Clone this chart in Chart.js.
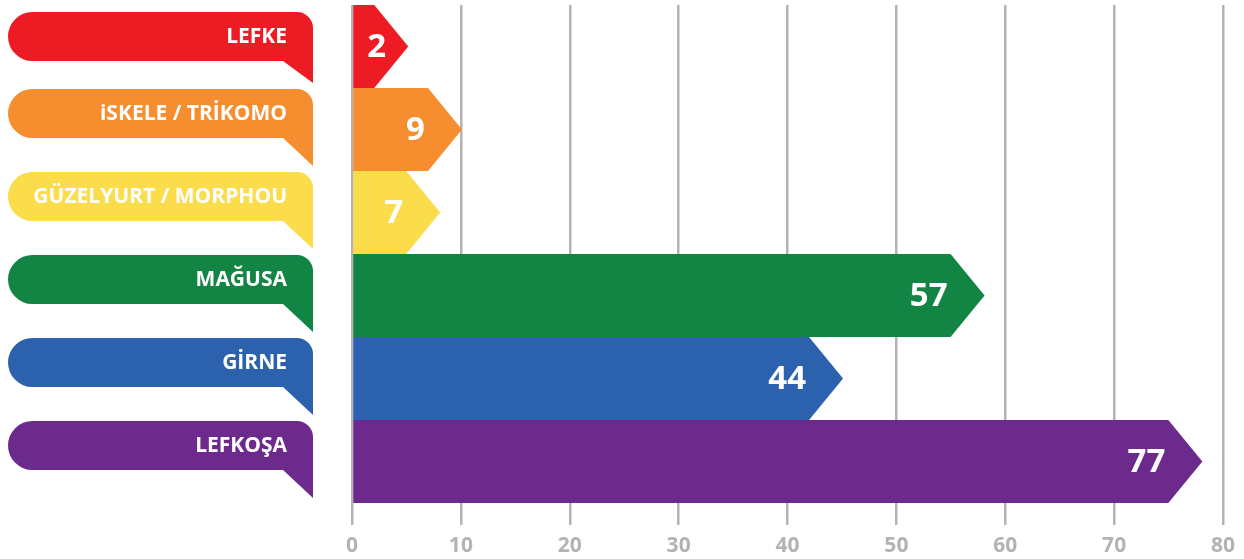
<!DOCTYPE html>
<html>
<head>
<meta charset="utf-8">
<script src="https://cdn.jsdelivr.net/npm/chart.js@4/dist/chart.umd.min.js"></script>
<style>
  html, body { margin: 0; padding: 0; background: #fff; }
  #wrap { width: 1244px; height: 559px; }
</style>
</head>
<body>
<div id="wrap"><canvas id="bolgeler"></canvas></div>
<script>
// veriler
const regions = ['LEFKE', 'iSKELE / TRİKOMO', 'GÜZELYURT / MORPHOU', 'MAĞUSA', 'GİRNE', 'LEFKOŞA'];
const counts = [2, 9, 7, 57, 44, 77];
const xTicks = [0, 10, 20, 30, 40, 50, 60, 70, 80];
const colors = ['#ED1C24', '#F68D2E', '#FBDC4B', '#128544', '#2C62AD', '#6C2B8C'];

const FONT = "'Open Sans', 'Noto Sans', sans-serif";
const GRID = '#b3b3b3';

// ok seklindeki cubuklar, deger yazilari ve soldaki etiketler
const arrowBars = {
    id: 'arrowBars',
    afterDatasetsDraw(chart) {
        const ctx = chart.ctx;
        const meta = chart.getDatasetMeta(0);
        ctx.save();
        meta.data.forEach(function (bar, i) {
            const h = bar.height;
            const top = bar.y - h / 2;
            // ucun arkasi deger noktasinin biraz gerisinde kalir
            const end = Math.max(bar.x - 22, bar.base + 21);
            ctx.fillStyle = colors[i];
            ctx.beginPath();
            ctx.moveTo(bar.base, top);
            ctx.lineTo(end, top);
            ctx.lineTo(end + 34, bar.y);
            ctx.lineTo(end, top + h);
            ctx.lineTo(bar.base, top + h);
            ctx.closePath();
            ctx.fill();

            // deger
            ctx.font = 'bold 33px ' + FONT;
            ctx.fillStyle = '#fff';
            ctx.textAlign = 'right';
            ctx.textBaseline = 'middle';
            const txt = String(counts[i]);
            const w = ctx.measureText(txt).width;
            const tx = Math.max(end - 3, bar.base + 14 + w);
            ctx.fillText(txt, tx, bar.y + 1);
        });
        ctx.restore();
    },
    afterDraw(chart) {
        const ctx = chart.ctx;
        const meta = chart.getDatasetMeta(0);
        ctx.save();
        meta.data.forEach(function (bar, i) {
            const bandTop = bar.y - bar.height / 2;
            const left = 8, right = 313;
            const top = bandTop + (i === 0 ? 7 : 1);
            const bottom = top + 49;
            const tail = bandTop + 78;
            const r = 24.5, rc = 16;
            ctx.fillStyle = colors[i];
            ctx.beginPath();
            ctx.moveTo(left + r, top);
            ctx.lineTo(right - rc, top);
            ctx.arcTo(right, top, right, top + rc, rc);
            ctx.lineTo(right, tail);
            ctx.lineTo(right - 30, bottom);
            ctx.lineTo(left + r, bottom);
            ctx.arc(left + r, top + r, r, Math.PI / 2, Math.PI * 1.5);
            ctx.closePath();
            ctx.fill();

            ctx.font = 'bold 21px ' + FONT;
            ctx.fillStyle = '#fff';
            ctx.textAlign = 'right';
            ctx.textBaseline = 'middle';
            ctx.fillText(regions[i], 287, (top + bottom) / 2 + 1);
        });
        ctx.restore();
    }
};

const ctx = document.getElementById('bolgeler').getContext('2d');

new Chart(ctx, {
    type: 'bar',
    data: {
        labels: regions,
        datasets: [{
            data: counts,
            backgroundColor: 'rgba(0,0,0,0)',
            borderWidth: 0,
            categoryPercentage: 1,
            barPercentage: 1
        }]
    },
    options: {
        indexAxis: 'y',
        responsive: true,
        maintainAspectRatio: false,
        animation: false,
        layout: {
            padding: { left: 352, right: 21, top: 5, bottom: 0 }
        },
        plugins: {
            legend: { display: false },
            tooltip: { enabled: false }
        },
        scales: {
            x: {
                min: 0,
                max: 80,
                afterBuildTicks: function (scale) {
                    scale.ticks = xTicks.map(function (v) { return { value: v }; });
                },
                afterFit: function (scale) {
                    scale.height = 56;
                },
                grid: {
                    color: GRID,
                    lineWidth: 2.5,
                    tickLength: 22,
                    drawTicks: true
                },
                border: { display: false },
                ticks: {
                    color: GRID,
                    padding: 8,
                    font: { family: FONT, size: 21, weight: 'bold' }
                }
            },
            y: {
                display: false
            }
        }
    },
    plugins: [arrowBars]
});
</script>
</body>
</html>
